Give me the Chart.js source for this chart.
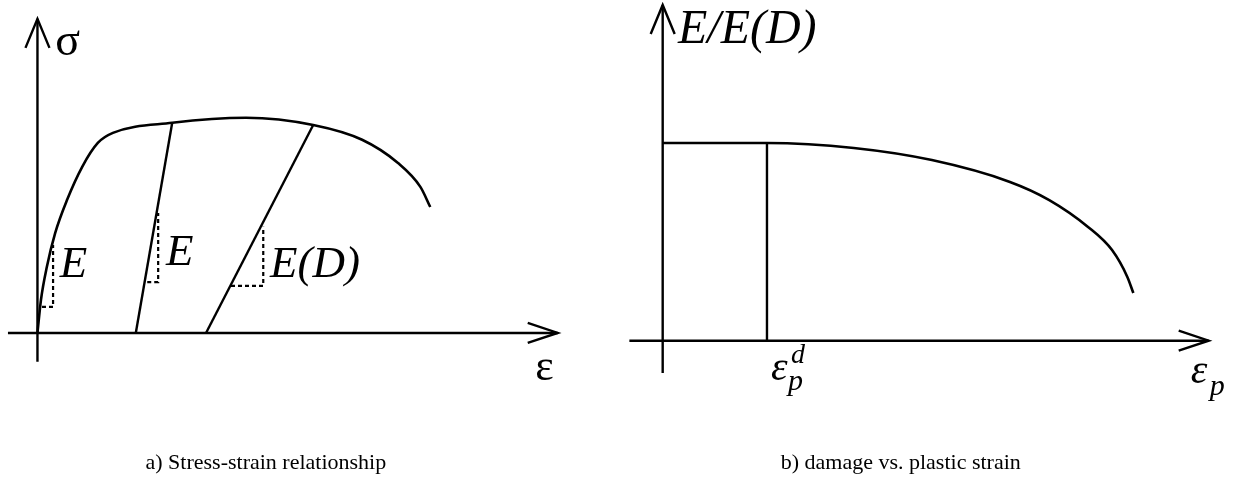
<!DOCTYPE html>
<html>
<head>
<meta charset="utf-8">
<script src="https://cdn.jsdelivr.net/npm/chart.js@4.4.1/dist/chart.umd.min.js"></script>
<style>
  html, body { margin: 0; padding: 0; background: #fff; }
  .panel { position: absolute; top: 0; height: 488px; }
  #left { left: 0; width: 616px; }
  #right { left: 616px; width: 617px; }
</style>
</head>
<body>
<div class="panel" id="left"><canvas id="stressChart"></canvas></div>
<div class="panel" id="right"><canvas id="damageChart"></canvas></div>
<script>
// a) stress-strain curve, [strain, stress]
const stressStrain = [
    [0, 0], [0.067, 1.05], [0.18, 2.10], [0.34, 3.18], [0.57, 4.24],
    [0.86, 5.29], [1.16, 6.05], [1.45, 6.37], [2.59, 6.69], [4.01, 6.85],
    [5.30, 6.62], [6.24, 6.15], [6.93, 5.41], [7.36, 4.65], [7.55, 4.01]
];
// unloading branches
const unloadA = [[1.89, 0], [2.59, 6.69]];
const unloadB = [[3.24, 0], [5.30, 6.62]];
// slope triangles (dashed)
const slopeE1 = [[0.087, 0.83], [0.30, 0.83], [0.30, 2.80]];
const slopeE2 = [[2.11, 1.62], [2.32, 1.62], [2.32, 3.82]];
const slopeED = [[3.72, 1.50], [4.34, 1.50], [4.34, 3.38]];

// b) stiffness ratio vs. plastic strain
const epsD = 1.91;
const plateau = 5.89;
const damageCurve = [
    [0, plateau], [epsD, plateau], [3.50, 5.74], [4.93, 5.38], [6.36, 4.73],
    [7.08, 4.19], [7.79, 3.39], [8.23, 2.70], [8.51, 1.90], [8.62, 1.42]
];
const epsDMarker = [[epsD, 0], [epsD, plateau]];

const SERIF = '"Liberation Serif", "Times New Roman", serif';

function pts(arr) {
    return arr.map(p => ({ x: p[0], y: p[1] }));
}

function line(data, width, dash) {
    return {
        data: pts(data),
        showLine: true,
        borderColor: '#000',
        borderWidth: width,
        borderDash: dash || [],
        pointRadius: 0,
        fill: false,
        tension: 0
    };
}

// Axes with open arrow heads, plus the labels and the caption
const sketchAxes = {
    id: 'sketchAxes',
    afterDatasetsDraw(chart, args, opts) {
        const { ctx } = chart;
        const x = chart.scales.x, y = chart.scales.y;
        const x0 = x.getPixelForValue(0), y0 = y.getPixelForValue(0);
        const xTip = x.getPixelForValue(opts.xTo), yTip = y.getPixelForValue(opts.yTo);
        ctx.save();
        ctx.strokeStyle = '#000';
        ctx.lineWidth = 2.4;
        ctx.beginPath();
        ctx.moveTo(x.getPixelForValue(opts.xFrom), y0);
        ctx.lineTo(xTip, y0);
        ctx.moveTo(x0, y.getPixelForValue(opts.yFrom));
        ctx.lineTo(x0, yTip);
        ctx.stroke();

        ctx.beginPath();
        ctx.moveTo(xTip - 30, y0 - 10);
        ctx.lineTo(xTip, y0);
        ctx.lineTo(xTip - 30, y0 + 10);
        ctx.moveTo(x0 - 12, yTip + 29);
        ctx.lineTo(x0, yTip);
        ctx.lineTo(x0 + 12, yTip + 29);
        ctx.stroke();

        ctx.fillStyle = '#000';
        ctx.textBaseline = 'alphabetic';
        ctx.textAlign = 'left';
        opts.labels.forEach(l => {
            ctx.font = (l.italic ? 'italic ' : '') + l.size + 'px ' + SERIF;
            ctx.fillText(l.text, x.getPixelForValue(l.x) + (l.dx || 0), y.getPixelForValue(l.y) + (l.dy || 0));
        });

        ctx.font = '22px ' + SERIF;
        ctx.textAlign = 'center';
        ctx.textBaseline = 'middle';
        ctx.fillText(opts.caption, x.getPixelForValue(opts.captionAt), chart.chartArea.bottom - 25);
        ctx.restore();
    }
};

function baseOptions(xMin, xMax, yMin, yMax, axes) {
    return {
        responsive: true,
        maintainAspectRatio: false,
        animation: false,
        layout: { padding: 0 },
        scales: {
            x: { type: 'linear', min: xMin, max: xMax, display: false },
            y: { type: 'linear', min: yMin, max: yMax, display: false }
        },
        plugins: {
            legend: { display: false },
            tooltip: { enabled: false },
            sketchAxes: axes
        }
    };
}

new Chart(document.getElementById('stressChart'), {
    type: 'scatter',
    data: {
        datasets: [
            Object.assign(line(stressStrain, 2.6), { cubicInterpolationMode: 'monotone' }),
            line(unloadA, 2.4),
            line(unloadB, 2.4),
            line(slopeE1, 2.2, [4, 3]),
            line(slopeE2, 2.2, [4, 3]),
            line(slopeED, 2.2, [4, 3])
        ]
    },
    options: baseOptions(-0.72, 11.12, -4.936, 10.6, {
        xFrom: -0.567, xTo: 10, yFrom: -0.92, yTo: 10,
        caption: 'a) Stress-strain relationship', captionAt: 4.39,
        labels: [
            { text: 'σ', x: 0.34, y: 8.85, size: 46 },
            { text: 'ε', x: 9.57, y: -1.50, size: 44 },
            { text: 'E', x: 0.43, y: 1.78, size: 45, italic: true },
            { text: 'E', x: 2.47, y: 2.17, size: 45, italic: true },
            { text: 'E(D)', x: 4.47, y: 1.78, size: 45, italic: true }
        ]
    }),
    plugins: [sketchAxes]
});

new Chart(document.getElementById('damageChart'), {
    type: 'scatter',
    data: {
        datasets: [
            Object.assign(line(damageCurve, 2.6), { cubicInterpolationMode: 'monotone' }),
            line(epsDMarker, 2.4)
        ]
    },
    options: baseOptions(-0.855, 10.445, -4.388, 10.149, {
        xFrom: -0.61, xTo: 10, yFrom: -0.96, yTo: 10,
        caption: 'b) damage vs. plastic strain', captionAt: 4.36,
        labels: [
            { text: 'E/E(D)', x: 0.28, y: 8.87, size: 48, italic: true },
            { text: 'ε', x: epsD, y: -1.17, dx: 4, size: 42, italic: true },
            { text: 'd', x: epsD, y: -1.17, dx: 24, dy: -17, size: 28, italic: true },
            { text: 'p', x: epsD, y: -1.17, dx: 21, dy: 10, size: 30, italic: true },
            { text: 'ε', x: 9.67, y: -1.25, size: 42, italic: true },
            { text: 'p', x: 9.67, y: -1.25, dx: 19, dy: 12, size: 30, italic: true }
        ]
    }),
    plugins: [sketchAxes]
});
</script>
</body>
</html>
